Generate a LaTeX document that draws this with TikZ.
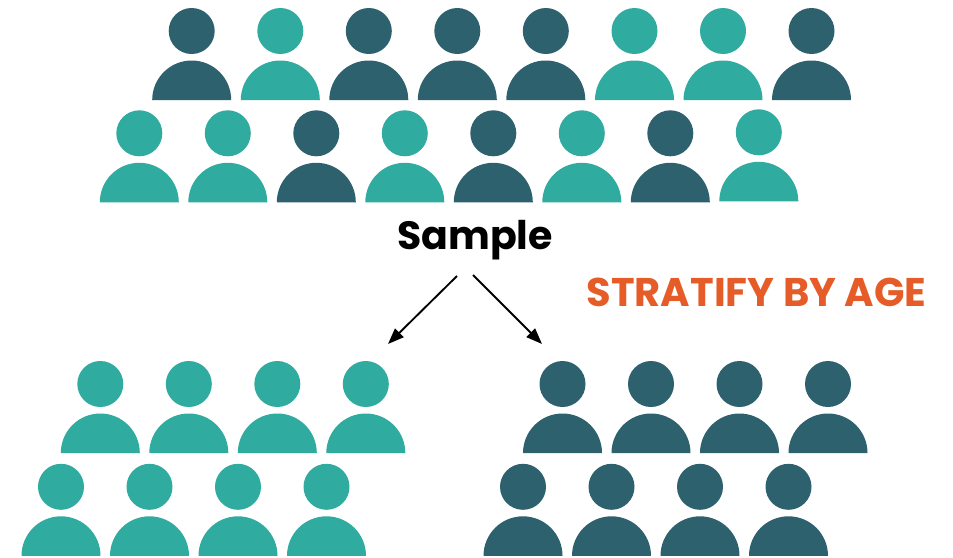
\documentclass[tikz,border=0pt]{standalone}
\usepackage{fontspec}
\setmainfont{Poppins}
\usetikzlibrary{arrows.meta}
\definecolor{tealc}{HTML}{2FAB9F}
\definecolor{darkc}{HTML}{2D616E}
\definecolor{orangec}{HTML}{E65C28}
% one person: head and half round body, #1 = x of centre, #2 = y of head
\newcommand{\person}[3]{
    \fill[#3] (#1,#2) circle (23);
    \fill[#3] (#1-39.5,#2-69) arc (180:0:39.5) -- cycle;
}
\begin{document}
\begin{tikzpicture}[x=0.75pt,y=0.75pt]
    \useasboundingbox (0,0) rectangle (953,-557);

    % sample, top row
    \foreach \x/\c in {191.7/darkc,280.3/tealc,368.8/darkc,457.3/darkc,545.8/darkc,634.5/tealc,723/tealc,811.5/darkc} {
        \person{\x}{-31}{\c}
    }
    % sample, second row
    \foreach \x/\c in {139.3/tealc,227.8/tealc,316.3/darkc,404.8/tealc,493.3/darkc,581.8/tealc,670.3/darkc} {
        \person{\x}{-133.3}{\c}
    }
    \person{758.8}{-132.3}{tealc}

    % the two groups
    \foreach \x in {100.3,188.8,277.3,365.8} {
        \person{\x}{-384}{tealc}
    }
    \foreach \x in {61,149.5,238,326.5} {
        \person{\x}{-486.8}{tealc}
    }
    \foreach \x in {562.5,651,739.5,828} {
        \person{\x}{-384}{darkc}
    }
    \foreach \x in {523,611.5,700,788.5} {
        \person{\x}{-486.8}{darkc}
    }

    \node[anchor=base,inner sep=0pt,font=\bfseries\fontsize{29.6}{36}\selectfont] (sample) at (475,-249) {Sample};
    \node[anchor=base,inner sep=0pt,text=orangec,font=\bfseries\fontsize{30}{36}\selectfont] (stratify) at (756.5,-306) {STRATIFY BY AGE};

    \coordinate (splitl) at (457,-276);
    \coordinate (splitr) at (473,-275);
    \coordinate (young) at (388,-344);
    \coordinate (old) at (542,-344);
    \draw[-{Triangle[length=12pt,width=9pt]},line width=1.4pt] (splitl) -- (young);
    \draw[-{Triangle[length=12pt,width=9pt]},line width=1.4pt] (splitr) -- (old);
\end{tikzpicture}
\end{document}
